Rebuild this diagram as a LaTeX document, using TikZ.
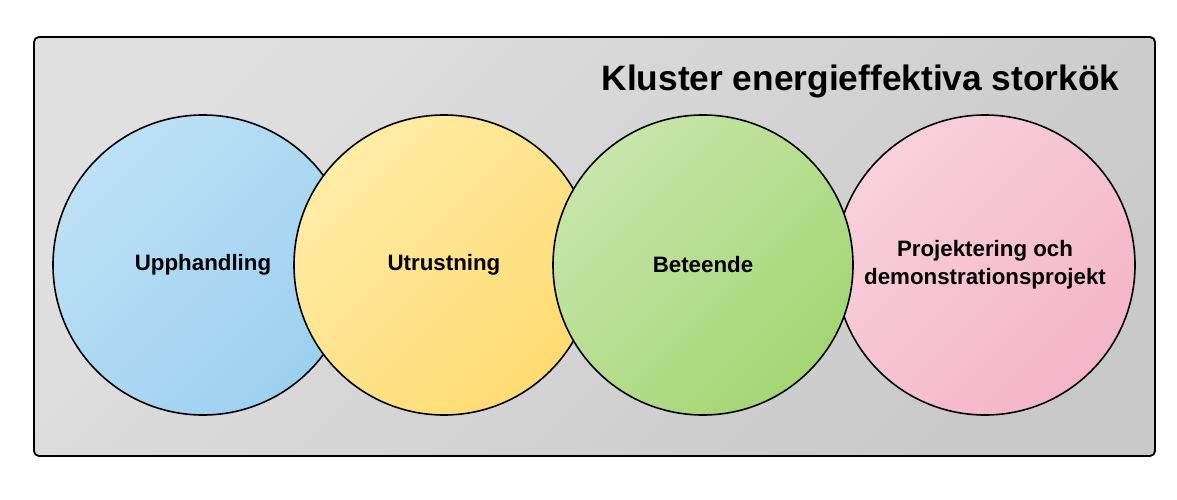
\documentclass[tikz,border=0pt]{standalone}
\usepackage{fontspec}
\setmainfont{Liberation Sans}
\tikzset{
  panel/.style={draw=black, line width=1.8pt, rounded corners=5pt, top color=panelA, bottom color=panelB, shading angle=45},
  ring/.style={circle, draw=black, line width=1.6pt, minimum size=300pt, inner sep=0pt, font=\fontsize{22.3}{28}\selectfont\bfseries, align=center, shading angle=45},
}
\definecolor{panelA}{HTML}{E0E0E0}
\definecolor{panelB}{HTML}{C9C9C9}
\definecolor{blueA}{HTML}{BDE1F6}
\definecolor{blueB}{HTML}{9DD0F0}
\definecolor{yelA}{HTML}{FFECA6}
\definecolor{yelB}{HTML}{FFDB72}
\definecolor{grnA}{HTML}{C6E6AA}
\definecolor{grnB}{HTML}{A4D674}
\definecolor{pnkA}{HTML}{F9D0DC}
\definecolor{pnkB}{HTML}{F4B5C9}
\begin{document}
\begin{tikzpicture}[x=1pt,y=-1pt]
\useasboundingbox (0,0) rectangle (1177,500);
\path[panel] (34,37) rectangle (1155,456);
\node[anchor=base east, font=\fontsize{35.3}{40}\selectfont\bfseries] (title) at (1123,91) {Kluster energieffektiva storkök};
\node[ring, top color=blueA, bottom color=blueB, shading angle=45] (upph) at (203,265) {Upphandling};
\node[ring, top color=yelA, bottom color=yelB, shading angle=45] (utr) at (444,265) {Utrustning};
\node[ring, top color=pnkA, bottom color=pnkB, shading angle=45] (proj) at (985,265) {Projektering och\\demonstrationsprojekt};
\node[ring, top color=grnA, bottom color=grnB, shading angle=45] (bet) at (703,265) {Beteende};
\end{tikzpicture}
\end{document}
